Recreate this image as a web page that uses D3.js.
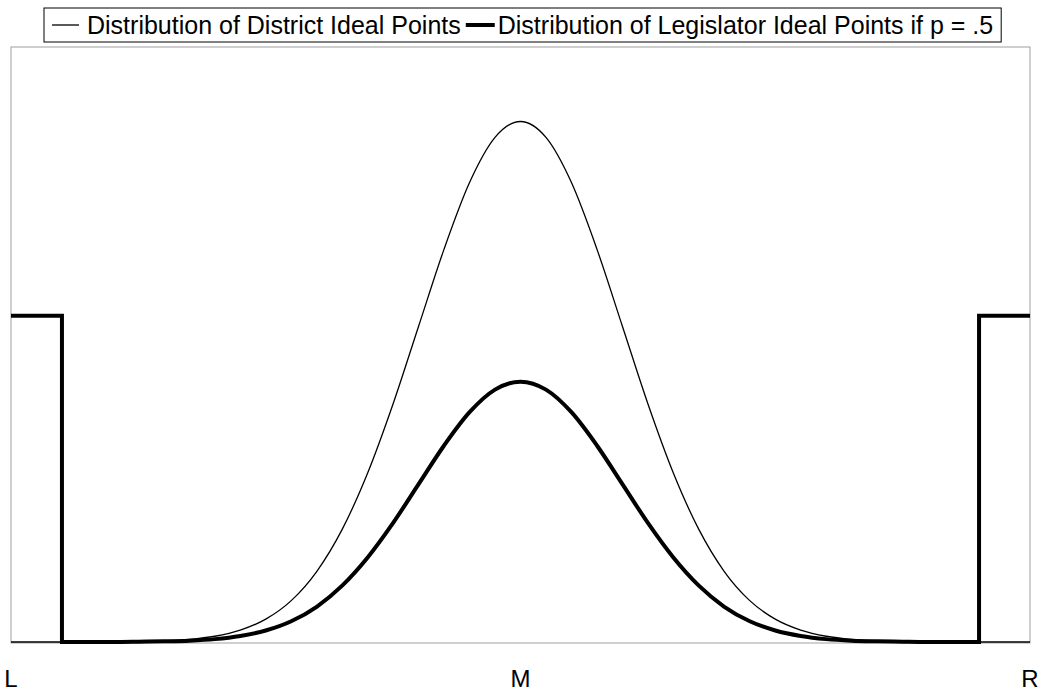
<!DOCTYPE html>
<html>
<head>
<meta charset="utf-8">
<script src="https://cdn.jsdelivr.net/npm/d3@7"></script>
<style>
body { margin: 0; background: #fff; }
text { font-family: "Liberation Sans", Arial, sans-serif; fill: #000; }
</style>
</head>
<body>
<div id="chart"></div>
<script>
// policy space positions (L = 0, M = 50, R = 100)
var xs = [0, 2.5, 5, 7.5, 10, 12.5, 15, 17.5, 20, 22.5, 25, 27.5, 30, 32.5, 35, 37.5, 40, 42.5, 45, 47.5,
	50, 52.5, 55, 57.5, 60, 62.5, 65, 67.5, 70, 72.5, 75, 77.5, 80, 82.5, 85, 87.5, 90, 92.5, 95, 97.5, 100];
// thin line: density of district ideal points
var district = [0, 0, 0, 0, 0.00001, 0.00004, 0.00009, 0.0002, 0.00044, 0.00091, 0.00175, 0.00317, 0.0054, 0.00863,
	0.01295, 0.01826, 0.0242, 0.03011, 0.03521, 0.03867, 0.03989, 0.03867, 0.03521, 0.03011, 0.0242, 0.01826,
	0.01295, 0.00863, 0.0054, 0.00317, 0.00175, 0.00091, 0.00044, 0.0002, 0.00009, 0.00004, 0.00001, 0, 0, 0, 0];
// thick line: legislators (steps at both ends, bell in between)
var legislator = [0.025, 0.025, 0, 0, 0, 0.00002, 0.00005, 0.0001, 0.00022, 0.00046, 0.00088, 0.00159, 0.0027, 0.00432,
	0.00648, 0.00913, 0.0121, 0.01506, 0.01761, 0.01934, 0.01995, 0.01934, 0.01761, 0.01506, 0.0121, 0.00913,
	0.00648, 0.00432, 0.0027, 0.00159, 0.00088, 0.00046, 0.00022, 0.0001, 0.00005, 0.00002, 0, 0, 0, 0.025, 0.025];
// where the legislator steps jump (left / right)
var stepEdges = [5, 95];
var stepHeight = 0.025;
var tickValues = [0, 50, 100];
var tickLabels = ["L", "M", "R"];
var legendLabels = ["Distribution of District Ideal Points", "Distribution of Legislator Ideal Points if p = .5"];

var width = 1044, height = 696;
// plot box (note: "top" is reserved on window)
var plotLeft = 11, plotRight = 1030, plotTop = 47, plotBottom = 642;

var svg = d3.select("#chart").append("svg")
	.attr("width", width)
	.attr("height", height);

var x = d3.scaleLinear().domain([0, 100]).range([plotLeft, plotRight]);
var y = d3.scaleLinear().domain([0, 0.0456]).range([plotBottom, plotTop]);

// plot frame
svg.append("rect")
	.attr("x", plotLeft)
	.attr("y", plotTop)
	.attr("width", plotRight - plotLeft)
	.attr("height", plotBottom - plotTop + 1)
	.attr("fill", "none")
	.attr("stroke", "#a0a0a0")
	.attr("stroke-width", 1);

var smooth = d3.line()
	.x(function(d) { return x(d[0]); })
	.y(function(d) { return y(d[1]); })
	.curve(d3.curveMonotoneX);
var straight = d3.line()
	.x(function(d) { return x(d[0]); })
	.y(function(d) { return y(d[1]); });

// district curve
var pts = xs.map(function(d, i) { return [d, district[i]]; });
svg.append("path")
	.attr("d", smooth(pts))
	.attr("fill", "none")
	.attr("stroke", "#000")
	.attr("stroke-width", 1.3);

// legislator curve: steps are drawn straight, the bell smooth
var legPts = xs.map(function(d, i) { return [d, legislator[i]]; });
var bell = legPts.filter(function(d) { return d[0] >= stepEdges[0] && d[0] <= stepEdges[1]; });
var leftStep = legPts.filter(function(d) { return d[0] <= stepEdges[0] + 2.5; });
var rightStep = legPts.filter(function(d) { return d[0] >= stepEdges[1] - 2.5; });
// corner of each step
leftStep.splice(leftStep.length - 2, 0, [stepEdges[0], stepHeight]);
rightStep.splice(2, 0, [stepEdges[1], stepHeight]);

svg.append("path")
	.attr("d", smooth(bell))
	.attr("fill", "none")
	.attr("stroke", "#000")
	.attr("stroke-width", 4);

[leftStep, rightStep].forEach(function(s) {
	svg.append("path")
		.attr("d", straight(s))
		.attr("fill", "none")
		.attr("stroke", "#000")
		.attr("stroke-width", 4)
		.attr("stroke-linejoin", "miter");
});

// L / M / R labels
svg.selectAll(".tick").data(tickValues).enter()
	.append("text")
	.attr("class", "tick")
	.attr("x", function(d) { return x(d); })
	.attr("y", 687)
	.attr("text-anchor", "middle")
	.style("font-size", "24px")
	.text(function(d, i) { return tickLabels[i]; });

// legend
var legend = svg.append("g");
var box = legend.append("rect")
	.attr("x", 44)
	.attr("y", 8)
	.attr("height", 34)
	.attr("fill", "#fff")
	.attr("stroke", "#000")
	.attr("stroke-width", 1);
var cx = 52;
legendLabels.forEach(function(label, i) {
	var lw = i == 0 ? 27 : 29;
	legend.append("line")
		.attr("x1", cx).attr("x2", cx + lw)
		.attr("y1", 25).attr("y2", 25)
		.attr("stroke", "#000")
		.attr("stroke-width", i == 0 ? 1.3 : 4);
	var t = legend.append("text")
		.attr("x", cx + lw + (i == 0 ? 8 : 3))
		.attr("y", 34)
		.style("font-size", "25px")
		.text(label);
	cx = cx + lw + (i == 0 ? 8 : 3) + t.node().getComputedTextLength() + 5;
});
box.attr("width", cx + 3 - 44);
</script>
</body>
</html>
